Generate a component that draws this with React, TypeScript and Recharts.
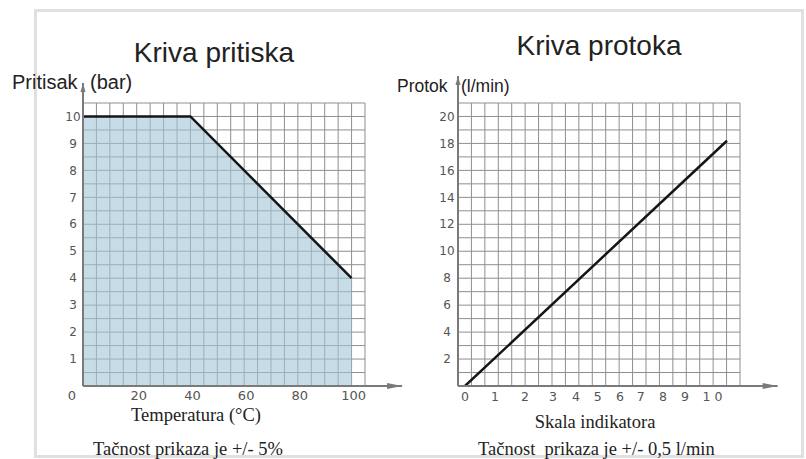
import React from 'react';
import {
  ComposedChart,
  Area,
  Line,
  XAxis,
  YAxis,
  CartesianGrid,
  ReferenceLine,
} from 'recharts';

// Kriva pritiska: max pressure (bar) vs temperature (°C)
const tempPoints = [0, 40, 100];
const pressurePoints = [10, 10, 4];
const tempTicks = [0, 20, 40, 60, 80, 100];
const pressureTicks = [1, 2, 3, 4, 5, 6, 7, 8, 9, 10];

// Kriva protoka: the line sits on a 21x21 grid, the indicator scale below it is not linear
const flowGridPos = [0.52, 20.03];
const flowValues = [0, 18.2];
const flowTicks = [2, 4, 6, 8, 10, 12, 14, 16, 18, 20];
const indicatorLabels = ['0', '1', '2', '3', '4', '5', '6', '7', '8', '9', '10'];
const indicatorPos = [0.52, 2.75, 4.99, 7.07, 8.79, 10.4, 12.06, 13.6, 15.26, 16.9, 19.1];

// grid spacing (one cell = 5 °C / 0.5 bar on the left, 1 unit on the right)
const range = (n: number, step: number) => Array.from({ length: n + 1 }, (_, i) => +(i * step).toFixed(2));
const leftGridX = range(21, 5);
const leftGridY = range(21, 0.5);
const rightGrid = range(21, 1);

const pressureData = tempPoints.map((t, i) => ({ t, p: pressurePoints[i] }));
const flowData = flowGridPos.map((g, i) => ({ g, q: flowValues[i] }));

const AXIS = '#7a7a7a';
const GRID = '#8f8f8f';
const TICK = '#555';
const SANS = '"Liberation Sans", Arial, sans-serif';
const SERIF = '"Liberation Serif", "Times New Roman", serif';

const arrowX = (p: any) => (
  <g>
    <line x1={p.x1} y1={p.y1} x2={p.x2} y2={p.y2} stroke={AXIS} strokeWidth={2} />
    <path d={`M${p.x2},${p.y2} L${p.x2 - 15},${p.y2 - 3} L${p.x2 - 15},${p.y2 + 3} Z`} fill={AXIS} />
  </g>
);

const arrowY = (p: any) => (
  <g>
    <line x1={p.x1} y1={p.y1} x2={p.x2} y2={p.y2} stroke={AXIS} strokeWidth={2} />
    <path d={`M${p.x2},${p.y2} L${p.x2 - 2.5},${p.y2 + 9} L${p.x2 + 2.5},${p.y2 + 9} Z`} fill={AXIS} />
  </g>
);

const LeftXTick = ({ x, y, payload }: any) => (
  <text
    x={payload.value === 0 ? x - 11 : x + 2}
    y={y}
    dy="0.71em"
    textAnchor="middle"
    fontSize={13}
    fontFamily="DejaVu Sans"
    fill={TICK}
  >
    {payload.value}
  </text>
);

const YTick = ({ x, y, payload }: any) => (
  <text x={x} y={y} dy="0.35em" textAnchor="middle" fontSize={12} fontFamily="DejaVu Sans" fill={TICK}>
    {payload.value}
  </text>
);

const IndicatorTick = ({ x, y, payload }: any) => {
  const label = indicatorLabels[indicatorPos.indexOf(payload.value)];
  return (
    <text
      x={x}
      y={y}
      dy="0.71em"
      textAnchor="middle"
      fontSize={12.5}
      fontFamily="DejaVu Sans"
      fill={TICK}
      letterSpacing={label === '10' ? 4 : 0}
    >
      {label}
    </text>
  );
};

export default function App() {
  return (
    <div style={{ position: 'absolute', left: 0, top: 0, width: 806, height: 459, background: '#fff' }}>
      <div
        style={{
          position: 'absolute',
          left: 34,
          top: 9,
          width: 770,
          height: 449,
          boxSizing: 'border-box',
          border: '3px solid #e0e0e0',
        }}
      />

      <div style={{ position: 'absolute', left: 0, top: 0 }}>
        <ComposedChart width={420} height={459} data={pressureData} margin={{ top: 103, right: 55, bottom: 43, left: 43 }}>
          <CartesianGrid stroke={GRID} strokeWidth={1} verticalValues={leftGridX} horizontalValues={leftGridY} />
          <XAxis
            dataKey="t"
            type="number"
            domain={[0, 105]}
            ticks={tempTicks}
            interval={0}
            allowDataOverflow
            axisLine={false}
            tickLine={false}
            tickSize={0}
            tickMargin={5}
            height={30}
            tick={<LeftXTick />}
          />
          <YAxis
            type="number"
            domain={[0, 10.5]}
            ticks={pressureTicks}
            interval={0}
            allowDataOverflow
            axisLine={false}
            tickLine={false}
            tickSize={0}
            tickMargin={10}
            width={40}
            tick={<YTick />}
          />
          <Area
            type="linear"
            dataKey="p"
            stroke="#151515"
            strokeWidth={2.5}
            fill="#a3c5d9"
            fillOpacity={0.6}
            dot={false}
            activeDot={false}
            isAnimationActive={false}
          />
          <ReferenceLine segment={[{ x: 0, y: 0 }, { x: 118.8, y: 0 }]} ifOverflow="visible" shape={arrowX} />
          <ReferenceLine segment={[{ x: 0, y: 0 }, { x: 0, y: 11.24 }]} ifOverflow="visible" shape={arrowY} />
        </ComposedChart>
      </div>

      <div style={{ position: 'absolute', left: 400, top: 0 }}>
        <ComposedChart width={406} height={459} data={flowData} margin={{ top: 103, right: 66, bottom: 43, left: 18 }}>
          <CartesianGrid stroke={GRID} strokeWidth={1} verticalValues={rightGrid} horizontalValues={rightGrid} />
          <XAxis
            dataKey="g"
            type="number"
            domain={[0, 21]}
            ticks={indicatorPos}
            interval={0}
            allowDataOverflow
            axisLine={false}
            tickLine={false}
            tickSize={0}
            tickMargin={6}
            height={30}
            tick={<IndicatorTick />}
          />
          <YAxis
            type="number"
            domain={[0, 21]}
            ticks={flowTicks}
            interval={0}
            allowDataOverflow
            axisLine={false}
            tickLine={false}
            tickSize={0}
            tickMargin={11}
            width={40}
            tick={<YTick />}
          />
          <Line
            type="linear"
            dataKey="q"
            stroke="#151515"
            strokeWidth={2.5}
            dot={false}
            activeDot={false}
            isAnimationActive={false}
          />
          <ReferenceLine segment={[{ x: 0, y: 0 }, { x: 23.8, y: 0 }]} ifOverflow="visible" shape={arrowX} />
          <ReferenceLine segment={[{ x: 0, y: 0 }, { x: 0, y: 23 }]} ifOverflow="visible" shape={arrowY} />
        </ComposedChart>
      </div>

      <svg width={806} height={459} style={{ position: 'absolute', left: 0, top: 0, pointerEvents: 'none' }}>
        <g fontFamily={SANS} fill="#222">
          <text x={214} y={62} fontSize={28} textAnchor="middle">Kriva pritiska</text>
          <text x={599} y={55} fontSize={28} textAnchor="middle">Kriva protoka</text>
          <text x={12} y={89} fontSize={20}>Pritisak</text>
          <text x={90} y={89} fontSize={20}>(bar)</text>
          <text x={397} y={92} fontSize={17.5}>Protok</text>
          <text x={461} y={92} fontSize={17.5}>(l/min)</text>
        </g>
        <g fontFamily={SERIF} fill="#222" fontSize={18.5}>
          <text x={196} y={421} textAnchor="middle">Temperatura (°C)</text>
          <text x={595} y={428} textAnchor="middle">Skala indikatora</text>
          <text x={93} y={455}>Tačnost prikaza je +/- 5%</text>
          <text x={478} y={455} style={{ whiteSpace: 'pre' }}>Tačnost  prikaza je +/- 0,5 l/min</text>
        </g>
      </svg>
    </div>
  );
}
